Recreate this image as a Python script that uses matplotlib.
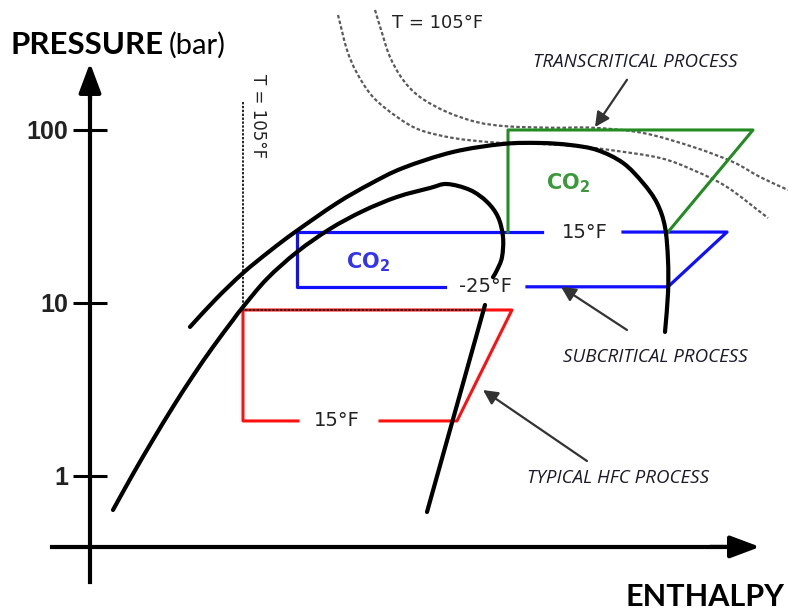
"""
plot.py
-------
Schematic pressure-enthalpy diagram: HFC cycle vs CO2 subcritical and
transcritical cycles. Saves out.png.
"""

import numpy as np
import matplotlib
matplotlib.use("Agg")  # non-interactive backend
import matplotlib.pyplot as plt
from matplotlib.path import Path
from matplotlib.patches import PathPatch
from matplotlib.ticker import NullLocator, FixedLocator

# Enthalpy in arbitrary units (axis at 0), pressure in bar (log scale)

# CO2 saturation dome
co2_dome_h = [100, 126, 153, 180, 205, 247, 280, 313, 363, 413, 450, 480, 507,
              533, 553, 567, 575, 578, 578, 575]
co2_dome_p = [7.27, 10.55, 14.9, 20.0, 25.7, 37.8, 48.7, 60.3, 74.6, 83.0, 84.1,
              81.9, 76.6, 64.5, 49.4, 37.8, 27.5, 17.7, 11.4, 6.80]

# HFC saturation dome (left branch + top), vapour line drawn apart
hfc_dome_h = [23, 43, 63, 83, 103, 123, 143, 153, 177, 207, 240, 273, 307, 340,
              357, 380, 397, 408, 413, 412, 407, 403]
hfc_dome_p = [0.636, 1.027, 1.62, 2.51, 3.79, 5.57, 7.97, 9.48, 13.8, 19.7, 26.8,
              34.0, 41.0, 46.2, 48.7, 45.0, 38.4, 31.4, 24.1, 18.4, 15.5, 14.1]
hfc_vapour_h = [395, 337]
hfc_vapour_p = [9.74, 0.619]

# CO2 isotherms T = 105 F (dotted)
iso_outer_h = [248, 257, 267, 283, 307, 330, 363, 397, 417, 450, 485, 520, 570,
               603, 637, 678]
iso_outer_p = [462, 290, 213, 155, 119, 100, 89.9, 85.3, 84.1, 83.0, 80.8, 76.6,
               68.9, 58.7, 46.8, 31.0]
iso_inner_h = [285, 292, 300, 313, 330, 357, 387, 417, 463, 503, 553, 603, 643,
               670, 698]
iso_inner_p = [494, 364, 264, 195, 155, 127, 111, 105, 103, 103, 96.1, 79.8, 65.3,
               53.5, 45.0]

# HFC isotherm T = 105 F
hfc_iso_h = [153, 153, 395]
hfc_iso_p = [145, 9.11, 9.11]

# HFC cycle (red), low side split around the 15 F label
hfc_cycle_h = [208, 153, 153, 422, 367, 290]
hfc_cycle_p = [2.08, 2.08, 9.11, 9.11, 2.08, 2.08]

# CO2 subcritical cycle (blue), split around the labels
sub_left_h = [452, 207, 207, 355]
sub_left_p = [25.7, 25.7, 12.4, 12.4]
sub_right_h = [533, 637, 578, 437]
sub_right_p = [25.7, 25.7, 12.4, 12.4]

# CO2 transcritical cycle (green)
trans_h = [418, 418, 663, 578]
trans_p = [25.7, 100, 100, 25.7]

# labels: (text, h, p)
temp_labels = [("15°F", 495, 25.7), ("-25°F", 396, 12.4), ("15°F", 247, 2.08)]
process_labels = [
    # text, text pos, arrow tail, arrow tip
    ("TRANSCRITICAL PROCESS", (545, 247), (537, 195), (505, 104)),
    ("SUBCRITICAL PROCESS", (565, 4.87), (537, 6.98), (471, 12.4)),
    ("TYPICAL HFC PROCESS", (528, 0.974), (497, 1.22), (393, 3.14)),
]
pressure_ticks = [1, 10, 100]

BLACK = "#000000"
BLUE = "#1010ff"
RED = "#ff1010"
GREEN = "#228b22"
DOT = "#5a5a5a"


def smooth_path(h, p):
    """Catmull-Rom curve through the points, built in (h, log10 p) space."""
    pts = np.column_stack([np.asarray(h, float), np.log10(p)])
    ext = np.vstack([2 * pts[0] - pts[1], pts, 2 * pts[-1] - pts[-2]])
    verts = [pts[0]]
    codes = [Path.MOVETO]
    for i in range(1, len(ext) - 2):
        p0, p1, p2, p3 = ext[i - 1], ext[i], ext[i + 1], ext[i + 2]
        verts += [p1 + (p2 - p0) / 6, p2 - (p3 - p1) / 6, p2]
        codes += [Path.CURVE4] * 3
    verts = np.array(verts)
    verts[:, 1] = 10 ** verts[:, 1]
    return Path(verts, codes)


def add_curve(ax, h, p, **kw):
    ax.add_patch(PathPatch(smooth_path(h, p), fill=False, **kw))


fig = plt.figure(figsize=(7.88, 6.10), dpi=100)
ax = fig.add_axes([0, 0, 1, 1])
ax.set_yscale("log")
ax.set_xlim(-90, 698)
ax.set_ylim(0.168, 564)

# axes drawn as arrows through the origin
for side in ("top", "right"):
    ax.spines[side].set_visible(False)
ax.spines["left"].set_position(("data", 0))
ax.spines["left"].set_bounds(0.244, 175)
ax.spines["bottom"].set_position(("data", 0.389))
ax.spines["bottom"].set_bounds(-38, 645)
for side in ("left", "bottom"):
    ax.spines[side].set_linewidth(3)
arrow_head = dict(arrowstyle="-|>,head_length=0.4,head_width=0.15", color=BLACK,
                  lw=3, mutation_scale=45, shrinkA=0, shrinkB=0)
ax.annotate("", xy=(0, 244), xytext=(0, 150), arrowprops=arrow_head)
ax.annotate("", xy=(670, 0.389), xytext=(620, 0.389), arrowprops=arrow_head)
ax.xaxis.set_major_locator(NullLocator())
ax.yaxis.set_major_locator(FixedLocator(pressure_ticks))
ax.yaxis.set_minor_locator(NullLocator())
ax.set_yticklabels([str(t) for t in pressure_ticks], family="Liberation Sans",
                   fontsize=18, fontweight="bold", color="#222222")
ax.tick_params(axis="y", direction="inout", length=25, width=2.2, pad=3)

# isotherms
add_curve(ax, iso_outer_h, iso_outer_p, ec=DOT, lw=1.6, ls=(0, (1.6, 1.0)), zorder=2)
add_curve(ax, iso_inner_h, iso_inner_p, ec=DOT, lw=1.6, ls=(0, (1.6, 1.0)), zorder=2)

# cycles
ax.plot(hfc_cycle_h, hfc_cycle_p, color=RED, lw=2.2, zorder=3)
ax.plot(hfc_iso_h, hfc_iso_p, color="#222222", lw=1.4, ls=(0, (1.2, 0.8)), zorder=4)
ax.plot(sub_left_h, sub_left_p, color=BLUE, lw=2.3, zorder=3)
ax.plot(sub_right_h, sub_right_p, color=BLUE, lw=2.3, zorder=3)
ax.plot(trans_h, trans_p, color=GREEN, lw=2.2, zorder=3)

# saturation domes
add_curve(ax, co2_dome_h, co2_dome_p, ec=BLACK, lw=3, capstyle="round", zorder=5)
add_curve(ax, hfc_dome_h, hfc_dome_p, ec=BLACK, lw=3, capstyle="round", zorder=5)
ax.plot(hfc_vapour_h, hfc_vapour_p, color=BLACK, lw=3, solid_capstyle="round", zorder=5)

# text
for txt, h, p in temp_labels:
    ax.text(h, p, txt, ha="center", va="center", fontsize=14, color="#222222", zorder=6)
ax.text(278, 17.3, r"$\mathbf{CO_2}$", ha="center", va="center", fontsize=15,
        color="#3434f0", zorder=6)
ax.text(478, 49.4, r"$\mathbf{CO_2}$", ha="center", va="center", fontsize=15,
        color="#3a9a3a", zorder=6)
ax.text(348, 415, "T = 105°F", ha="center", va="center", fontsize=13, color="#222222")
ax.text(168, 120, "T = 105°F", ha="center", va="center", fontsize=12,
        rotation=-90, color="#222222")

for txt, pos, tail, tip in process_labels:
    ax.text(pos[0], pos[1], txt, ha="center", va="center", family="Open Sans",
            style="italic", fontsize=13.5, color="#1a1a2a")
    ax.annotate("", xy=tip, xytext=tail,
                arrowprops=dict(arrowstyle="-|>", color="#333333", lw=1.6,
                                mutation_scale=22, shrinkA=0, shrinkB=0))

fig.text(0.0127, 0.926, "PRESSURE", family="Lato", fontweight="bold", fontsize=22.5,
         ha="left", va="center")
fig.text(0.214, 0.926, "(bar)", family="Lato", fontsize=21, ha="left", va="center")
fig.text(0.996, 0.022, "ENTHALPY", family="Lato", fontweight="bold", fontsize=22,
         ha="right", va="center")

fig.savefig("out.png", dpi=100)
plt.close(fig)
